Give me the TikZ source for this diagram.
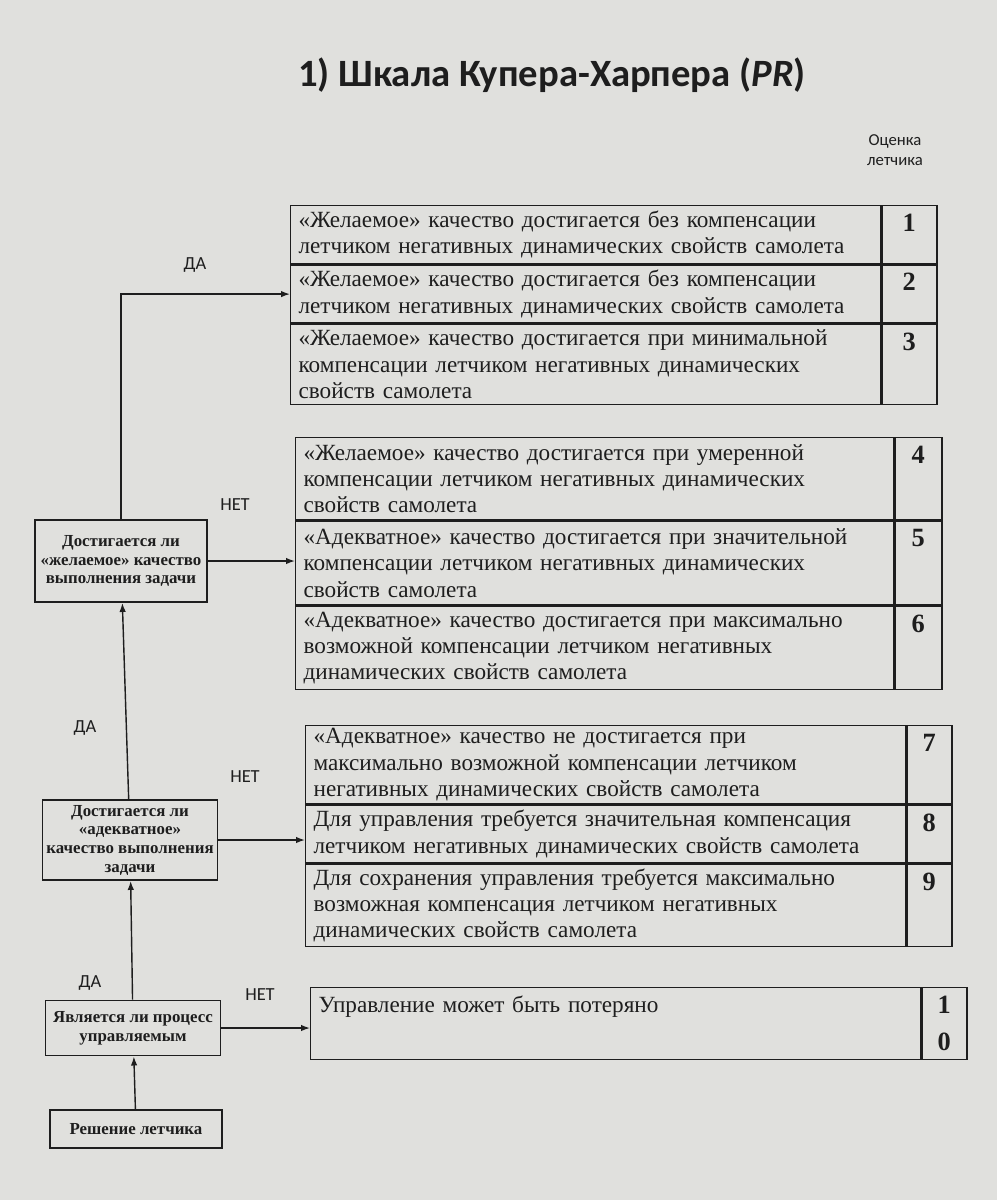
\documentclass[tikz,border=0pt]{standalone}
\usepackage{fontspec}
\setmainfont{Liberation Serif}
\newfontfamily\labelfont{Carlito}
\usetikzlibrary{arrows.meta,positioning,calc}
\definecolor{paper}{HTML}{E0E0DD}
\definecolor{ink}{HTML}{1E1E1E}

\begin{document}
\begin{tikzpicture}[x=0.02cm,y=-0.02cm,>={Latex[length=1.8mm,width=1.3mm]},
  every node/.style={text=ink},
  rowbox/.style={draw=ink,line width=.8pt,inner xsep=4.5pt,inner ysep=0pt,align=left,anchor=north west,font=\fontsize{13.2}{15}\selectfont,text width=#1},
  numbox/.style={draw=ink,line width=.8pt,inner sep=0pt,minimum width=#1},
  numtext/.style={font=\fontsize{15}{21}\selectfont\bfseries,inner sep=0pt,align=center},
  askbox/.style={draw=ink,line width=1.1pt,align=center,inner sep=1pt,font=\fontsize{9.6}{10.6}\selectfont\bfseries},
  answer/.style={font=\labelfont\fontsize{10.5}{12}\selectfont},
  link/.style={->,draw=ink,line width=.8pt}]
\fill[paper] (0,0) rectangle (997,1200);
% title and column head
\node[font=\labelfont\bfseries\fontsize{22}{26}\selectfont] (title) at (552,75) {1) Шкала Купера-Харпера (\textit{PR})};
\node[font=\labelfont\fontsize{9.5}{11.5}\selectfont,align=center] (head) at (895,150) {Оценка\\летчика};
% group 1
\node[rowbox=11.48cm,minimum height=1.16cm] (r1) at (290,205) {«Желаемое» качество достигается без компенсации\\летчиком негативных динамических свойств самолета};
\node[rowbox=11.48cm,minimum height=1.16cm,below=0pt of r1] (r2) {«Желаемое» качество достигается без компенсации\\летчиком негативных динамических свойств самолета};
\node[rowbox=11.48cm,minimum height=1.6cm,below=0pt of r2] (r3) {«Желаемое» качество достигается при минимальной\\компенсации летчиком негативных динамических\\свойств самолета};
% group 2
\node[rowbox=11.64cm,minimum height=1.64cm] (r4) at (295,437) {«Желаемое» качество достигается при умеренной\\компенсации летчиком негативных динамических\\свойств самолета};
\node[rowbox=11.64cm,minimum height=1.68cm,below=0pt of r4] (r5) {«Адекватное» качество достигается при значительной\\компенсации летчиком негативных динамических\\свойств самолета};
\node[rowbox=11.64cm,minimum height=1.66cm,below=0pt of r5] (r6) {«Адекватное» качество достигается при максимально\\возможной компенсации летчиком негативных\\динамических свойств самолета};
% group 3
\node[rowbox=11.68cm,minimum height=1.56cm] (r7) at (305,725) {«Адекватное» качество не достигается при\\максимально возможной компенсации летчиком\\негативных динамических свойств самолета};
\node[rowbox=11.68cm,minimum height=1.16cm,below=0pt of r7] (r8) {Для управления требуется значительная компенсация\\летчиком негативных динамических свойств самолета};
\node[rowbox=11.68cm,minimum height=1.64cm,below=0pt of r8] (r9) {Для сохранения управления требуется максимально\\возможная компенсация летчиком негативных\\динамических свойств самолета};
% group 4
\node[rowbox=11.88cm,text height=.5cm,text depth=.94cm] (r10) at (310,987) {Управление может быть потеряно};
% score cells
\foreach \r/\w/\h in {1/1.1/1.16,2/1.1/1.16,3/1.1/1.6,4/.94/1.64,5/.94/1.68,6/.94/1.66,7/.9/1.56,8/.9/1.16,9/.9/1.64}{
  \node[numbox=\w cm,minimum height=\h cm,right=0pt of r\r] (n\r) {};
  \node[numtext,below=5pt of n\r.north] (k\r) {\r};
}
\node[numbox=.9cm,minimum height=1.44cm,right=0pt of r10] (n10) {};
\node[numtext,below=5pt of n10.north] (k10) {1\\0};
% decision boxes
\node[askbox,minimum width=3.44cm,minimum height=1.64cm] (b1) at (121,561) {Достигается ли\\«желаемое» качество\\выполнения задачи};
\node[askbox,minimum width=3.5cm,minimum height=1.6cm] (b2) at (130,840) {Достигается ли\\«адекватное»\\качество выполнения\\задачи};
\node[askbox,minimum width=3.5cm,minimum height=1.1cm] (b3) at (133,1028) {Является ли процесс\\управляемым};
\node[askbox,minimum width=3.44cm,minimum height=.76cm] (b4) at (136,1129) {Решение летчика};
% connectors
\foreach \u/\v in {b4/b3,b3/b2,b2/b1}{\draw[link] (\u)--(\v);}
\draw[link] (b1.north) |- (r2.west);
\draw[link] (b1.east) -- (b1.east -| r5.west);
\draw[link] (b2.east) -- (b2.east -| r8.west);
\draw[link] (b3.east) -- (b3.east -| r10.west);
\node[answer] (da1) at (195,265) {ДА};
\node[answer] (net1) at (235,505) {НЕТ};
\node[answer] (da2) at (85,728) {ДА};
\node[answer] (net2) at (245,777) {НЕТ};
\node[answer] (da3) at (90,983) {ДА};
\node[answer] (net3) at (260,995) {НЕТ};
\end{tikzpicture}
\end{document}
